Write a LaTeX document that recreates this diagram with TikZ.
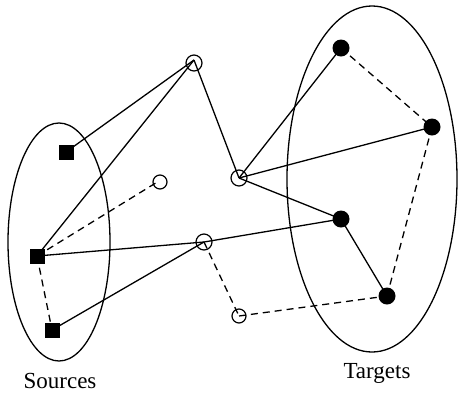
\documentclass[tikz,border=0pt]{standalone}
\usepackage{fontspec}
\setmainfont{Liberation Serif}
\usetikzlibrary{shapes.geometric}
\begin{document}
\begin{tikzpicture}[x=1pt,y=-1pt,line width=1.3pt,
  src/.style={fill=black,draw=none,minimum size=15pt,inner sep=0pt,rectangle},
  tgt/.style={fill=black,draw=none,circle,minimum size=17pt,inner sep=0pt},
  relay/.style={draw=black,circle,minimum size=16pt,inner sep=0pt,line width=1.2pt},
  dsh/.style={dash pattern=on 7pt off 5pt},
  lbl/.style={font=\fontsize{23}{26}\selectfont,inner sep=0pt,anchor=base}]
\useasboundingbox (0,0) rectangle (458,392);
% groups
\node[draw,ellipse,minimum width=102pt,minimum height=238pt,inner sep=0pt] (srcset) at (59,242) {};
\node[draw,ellipse,minimum width=170pt,minimum height=346pt,inner sep=0pt] (tgtset) at (372,179) {};
% nodes
\coordinate (s1) at (66,152);
\coordinate (s2) at (37,256);
\coordinate (s3) at (52,330);
\coordinate (c1) at (194,60);
\coordinate (c2) at (239,178);
\coordinate (c0) at (159,181);
\coordinate (c3) at (204,242);
\coordinate (c4) at (239,316);
\coordinate (t1) at (341,48);
\coordinate (t2) at (432,127);
\coordinate (t3) at (341,219);
\coordinate (t4) at (387,296);
% solid links
\draw (s1) -- (c1);
\draw (s2) -- (c1);
\draw (c1) -- (c2);
\draw (c2) -- (t1);
\draw (c2) -- (t2);
\draw (c2) -- (t3);
\draw (s2) -- (c3);
\draw (s3) -- (c3);
\draw (c3) -- (t3);
\draw (t3) -- (t4);
% dashed links
\draw[dsh] (s2) -- (c0);
\draw[dsh] (s2) -- (s3);
\draw[dsh] (c3) -- (c4);
\draw[dsh] (c4) -- (t4);
\draw[dsh] (t1) -- (t2);
\draw[dsh] (t2) -- (t4);
% markers
\node[src] (S1) at (s1) {};
\node[src] (S2) at (s2) {};
\node[src] (S3) at (s3) {};
\node[relay] (C1) at ([yshift=-3pt]c1) {};
\node[relay] (C2) at (c2) {};
\node[relay,minimum size=14pt] (C0) at ([xshift=1pt,yshift=-1pt]c0) {};
\node[relay] (C3) at (c3) {};
\node[relay,minimum size=14pt] (C4) at (c4) {};
\node[tgt] (T1) at (t1) {};
\node[tgt] (T2) at (t2) {};
\node[tgt] (T3) at (t3) {};
\node[tgt] (T4) at (t4) {};
% labels
\node[lbl] (srclbl) at (60,388) {Sources};
\node[lbl] (tgtlbl) at (377,378) {Targets};
\end{tikzpicture}
\end{document}
